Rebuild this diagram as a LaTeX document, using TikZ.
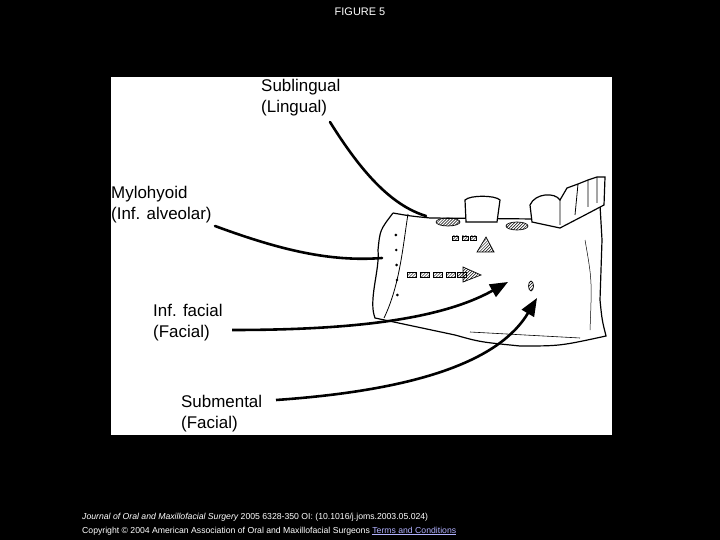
\documentclass[tikz,border=0pt]{standalone}
\usepackage{fontspec}
\setmainfont{Liberation Sans}
\usetikzlibrary{arrows.meta,patterns}
\begin{document}
\begin{tikzpicture}[x=1bp,y=-1bp,
    lbl/.style={anchor=north west,align=left,font=\fontsize{17}{21.5}\selectfont,inner sep=0pt},
    nerve/.style={line width=2.6pt,line cap=round},
    shot/.style={line width=2.6pt,-{Triangle[length=18pt,width=14pt]}},
    hole/.style={pattern=north east lines,draw,line width=0.7pt}]
    \fill[black] (0,0) rectangle (720,540);
    \fill[white] (111,77) rectangle (612,435);
    \node[white,font=\fontsize{11}{12}\selectfont] (title) at (360,12) {FIGURE 5};
    % jaw
    \draw[line width=1.2pt,fill=white] (393,213) .. controls (410,216) .. (430,218)
        -- (535,219) -- (560,214) -- (600,205) -- (602,240) -- (600,300)
        .. controls (602,320) .. (606,336) .. controls (560,346) .. (520,346)
        .. controls (480,342) .. (455,335) -- (375,318)
        .. controls (368,300) and (380,270) .. (378,250) .. controls (380,230) .. (393,213);
    \draw[line width=0.8pt] (408,214) .. controls (403,245) and (400,285) .. (384,318);
    \draw[line width=0.6pt] (470,332) -- (580,338);
    \draw[line width=0.5pt] (585,240) .. controls (592,280) .. (590,330);
    \foreach \y in {235,250,265,280,295}
        \fill (390+\y/40,\y) circle (1.4);
    % teeth
    \draw[line width=1.2pt,fill=white] (466,222) -- (465,200) .. controls (470,195) and (495,195) .. (500,200) -- (497,222) -- cycle;
    \draw[line width=1.2pt,fill=white] (532,222) -- (530,205) .. controls (535,193) and (555,192) .. (560,200)
        -- (567,188) -- (578,184) -- (588,180) -- (597,177) -- (605,177) -- (604,205) -- (585,215) -- (560,228) -- cycle;
    \draw[line width=0.8pt] (560,200) -- (560,225) (578,184) -- (575,215) (588,180) -- (588,207) (597,177) -- (597,203);
    % holes
    \draw[hole] (448,222) ellipse (12 and 4);
    \draw[hole] (517,226) ellipse (11 and 4);
    \draw[hole] (531,286) ellipse (2.5 and 5);
    \draw[hole] (477,252) -- (486,237) -- (494,252) -- cycle;
    \draw[hole] (463,282) -- (463,267) -- (481,275) -- cycle;
    \foreach \x in {407,420,433,446,457}
        \draw[hole] (\x,272) rectangle ++(9,5);
    \foreach \x in {452,462,470}
        \draw[hole] (\x,236) rectangle ++(6,4);
    % labels
    \node[lbl] (subl) at (261,79) {Sublingual\\(Lingual)};
    \node[lbl] (mylo) at (111,186) {Mylohyoid\\(Inf. alveolar)};
    \node[lbl] (inff) at (153,304) {Inf. facial\\(Facial)};
    \node[lbl] (subm) at (181,395) {Submental\\(Facial)};
    \coordinate (sublEnd) at (426,216);
    \coordinate (myloEnd) at (382,258);
    \coordinate (inffEnd) at (508,282);
    \coordinate (submEnd) at (537,298);
    \draw[nerve] (330,122) .. controls (360,170) and (390,205) .. (sublEnd);
    \draw[nerve] (215,226) .. controls (280,250) and (330,262) .. (myloEnd);
    \draw[shot] (232,330) .. controls (350,330) and (440,320) .. (inffEnd);
    \draw[shot] (276,400) .. controls (420,390) and (500,360) .. (submEnd);
    % footer
    \node[white,anchor=west,inner sep=0pt,font=\fontsize{8.7}{9}\selectfont\itshape] (jour) at (82,517)
        {Journal of Oral and Maxillofacial Surgery \upshape 2005 6328-350 OI: (10.1016/j.joms.2003.05.024)};
    \node[white,anchor=west,inner sep=0pt,font=\fontsize{8.7}{9}\selectfont] (copy) at (82,531)
        {Copyright \textcopyright{} 2004 American Association of Oral and Maxillofacial Surgeons \color{blue!30}\underline{Terms and Conditions}};
\end{tikzpicture}
\end{document}
